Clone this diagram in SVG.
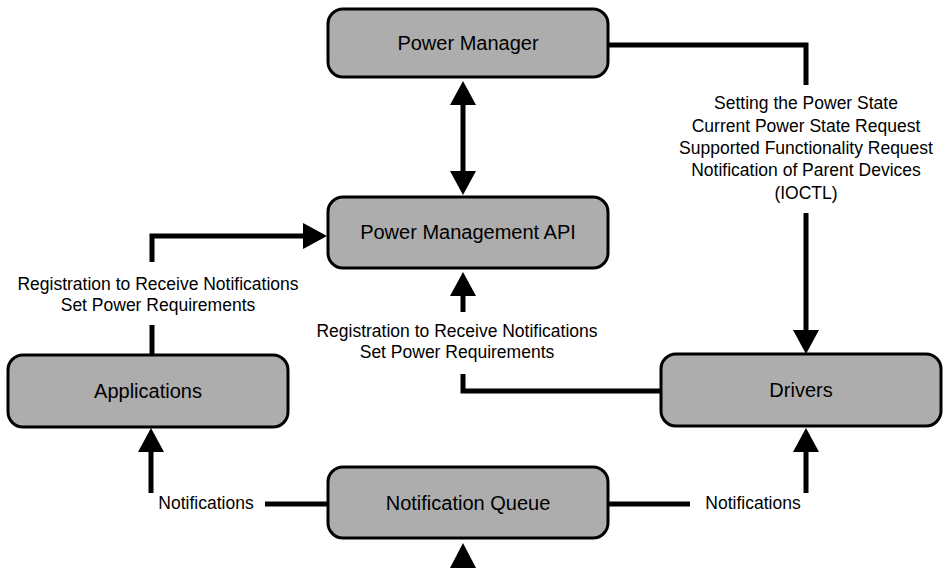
<svg xmlns="http://www.w3.org/2000/svg" width="945" height="568" viewBox="0 0 945 568">
<style>
.box{fill:#adadad;stroke:#000;stroke-width:3}
.bt{font-family:"Liberation Sans",Arial,sans-serif;font-size:20px;fill:#000;text-anchor:middle}
.lt{font-family:"Liberation Sans",Arial,sans-serif;font-size:17.5px;fill:#000;text-anchor:middle}
.c{fill:none;stroke:#000;stroke-width:5;stroke-linejoin:miter}
</style>
<defs>
<marker id="ah" markerUnits="userSpaceOnUse" markerWidth="25" markerHeight="26" refX="0" refY="13" orient="auto-start-reverse" viewBox="0 0 25 26">
<path d="M0,0 L24,13 L0,26 z" fill="#000"/>
</marker>
</defs>
<rect width="945" height="568" fill="#fff"/>
<g id="connectors">
<polyline class="c" points="608,45 806,45 806,85"/>
<line class="c" x1="806" y1="213" x2="806" y2="330" marker-end="url(#ah)"/>
<line class="c" x1="463" y1="105" x2="463" y2="171" marker-start="url(#ah)" marker-end="url(#ah)"/>
<line class="c" x1="152" y1="355" x2="152" y2="325"/>
<polyline class="c" points="152,262 152,236 303,236" marker-end="url(#ah)"/>
<polyline class="c" points="661,391 463,391 463,374"/>
<line class="c" x1="463" y1="312" x2="463" y2="296" marker-end="url(#ah)"/>
<line class="c" x1="328" y1="504" x2="265" y2="504"/>
<line class="c" x1="151" y1="493" x2="151" y2="452" marker-end="url(#ah)"/>
<line class="c" x1="608" y1="504" x2="690" y2="504"/>
<line class="c" x1="806" y1="493" x2="806" y2="452" marker-end="url(#ah)"/>
<polygon points="450,568 476,568 463,543" fill="#000"/>
<text class="lt" x="806" y="109">Setting the Power State</text>
<text class="lt" x="806" y="132">Current Power State Request</text>
<text class="lt" x="806" y="154">Supported Functionality Request</text>
<text class="lt" x="806" y="176">Notification of Parent Devices</text>
<text class="lt" x="806" y="199">(IOCTL)</text>
<text class="lt" x="158" y="290">Registration to Receive Notifications</text>
<text class="lt" x="158" y="311">Set Power Requirements</text>
<text class="lt" x="457" y="337">Registration to Receive Notifications</text>
<text class="lt" x="457" y="358">Set Power Requirements</text>
<text class="lt" x="206" y="509">Notifications</text>
<text class="lt" x="753" y="509">Notifications</text>
</g>
<g id="power-manager">
<rect class="box" x="328" y="9" width="280" height="68" rx="15"/>
<text class="bt" x="468" y="50">Power Manager</text>
</g>
<g id="power-management-api">
<rect class="box" x="328" y="197" width="280" height="71" rx="15"/>
<text class="bt" x="468" y="239">Power Management API</text>
</g>
<g id="applications">
<rect class="box" x="8" y="355" width="280" height="72" rx="15"/>
<text class="bt" x="148" y="398">Applications</text>
</g>
<g id="drivers">
<rect class="box" x="661" y="354" width="280" height="72" rx="15"/>
<text class="bt" x="801" y="397">Drivers</text>
</g>
<g id="notification-queue">
<rect class="box" x="328" y="467" width="280" height="71" rx="15"/>
<text class="bt" x="468" y="510">Notification Queue</text>
</g>
</svg>
